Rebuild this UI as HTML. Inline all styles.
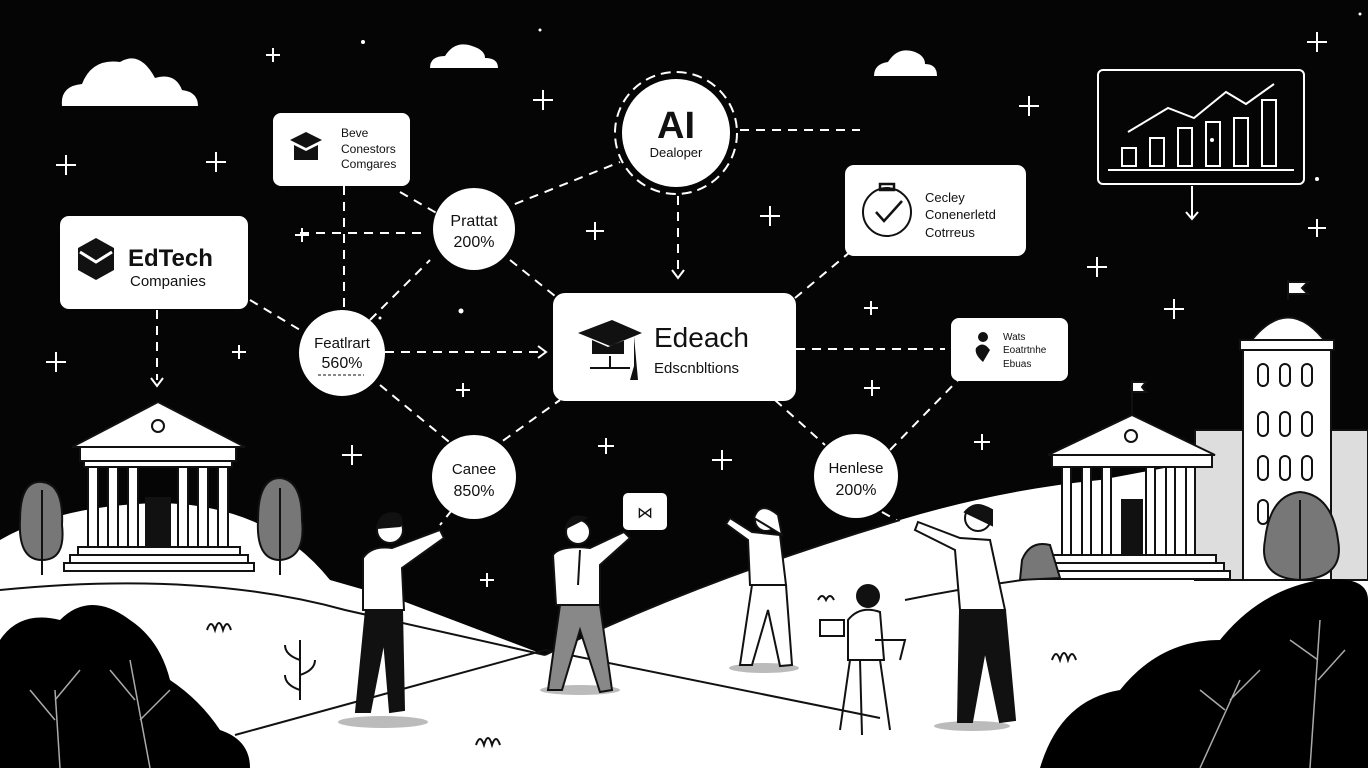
<!DOCTYPE html>
<html><head><meta charset="utf-8"><style>
html,body{margin:0;padding:0;background:#000;}
svg{display:block;}
text{font-family:"Liberation Sans",sans-serif;fill:#111;}
</style></head><body>
<svg width="1368" height="768" viewBox="0 0 1368 768" xmlns="http://www.w3.org/2000/svg">
<rect width="1368" height="768" fill="#050505"/>
<!-- clouds -->
<g fill="#fff">
<path d="M62 106 Q60 86 82 84 Q92 58 120 62 Q140 50 155 78 Q175 72 182 90 Q198 92 198 106 Z"/>
<path d="M430 68 Q430 56 445 56 Q455 40 472 46 Q485 50 485 58 Q498 58 498 68 Z"/>
<path d="M874 76 Q874 64 888 62 Q898 46 915 52 Q925 56 925 64 Q937 64 937 76 Z"/>
</g>
<!-- stars/plus -->
<g stroke="#fff" stroke-width="2">
<path d="M266 55h14M273 48v14M533 100h20M543 90v20M56 165h20M66 155v20M206 162h20M216 152v20M1019 106h20M1029 96v20M1307 42h20M1317 32v20M295 235h14M302 228v14M586 231h18M595 222v18M760 216h20M770 206v20M1087 267h20M1097 257v20M1164 309h20M1174 299v20M864 308h14M871 301v14M46 362h20M56 352v20M232 352h14M239 345v14M456 390h14M463 383v14M864 388h16M872 380v16M342 455h20M352 445v20M598 446h16M606 438v16M712 460h20M722 450v20M974 442h16M982 434v16M480 580h14M487 573v14M1308 228h18M1317 219v18"/>
</g>
<g fill="#fff">
<circle cx="363" cy="42" r="2"/><circle cx="540" cy="30" r="1.5"/><circle cx="1212" cy="140" r="2"/><circle cx="461" cy="311" r="2.5"/><circle cx="1317" cy="179" r="2"/><circle cx="716" cy="380" r="1.5"/><circle cx="380" cy="318" r="1.5"/><circle cx="1360" cy="14" r="1.5"/>
</g>
<!-- chart -->
<rect x="1098" y="70" width="206" height="114" rx="5" fill="none" stroke="#fff" stroke-width="2"/>
<g fill="none" stroke="#fff" stroke-width="2">
<rect x="1122" y="148" width="14" height="18"/><rect x="1150" y="138" width="14" height="28"/><rect x="1178" y="128" width="14" height="38"/><rect x="1206" y="122" width="14" height="44"/><rect x="1234" y="118" width="14" height="48"/><rect x="1262" y="100" width="14" height="66"/>
<path d="M1108 170h186M1128 132 L1168 108 L1194 118 L1226 92 L1246 104 L1274 84"/>
<path d="M1192 186v32M1186 212l6 7 6-7"/>
</g>
<!-- connectors -->
<g fill="none" stroke="#fff" stroke-width="2" stroke-dasharray="9 7">
<path d="M344 186 V310"/><path d="M300 233 H425"/><path d="M400 192 L440 215"/>
<path d="M500 210 L620 162"/><path d="M740 130 H860"/><path d="M678 196 V275"/>
<path d="M385 352 H540"/><path d="M250 300 L300 330"/><path d="M157 310 V380"/>
<path d="M370 320 L430 260"/><path d="M510 260 L560 300"/>
<path d="M380 385 L465 455"/><path d="M490 450 L560 400"/>
<path d="M796 349 H945"/><path d="M795 298 L850 252"/>
<path d="M775 400 L825 445"/><path d="M890 450 L960 378"/>
<path d="M452 510 L440 525"/><path d="M882 512 L905 525"/>
</g>
<g fill="none" stroke="#fff" stroke-width="2"><path d="M538 346l8 6-8 6M672 270l6 8 6-8M151 378l6 8 6-8"/><circle cx="676" cy="133" r="61" stroke-dasharray="10 6"/></g>
<!-- nodes -->
<circle cx="676" cy="133" r="54" fill="#fff"/>
<text x="676" y="138" font-size="38" font-weight="bold" text-anchor="middle">AI</text>
<text x="676" y="157" font-size="13" text-anchor="middle">Dealoper</text>
<rect x="273" y="113" width="137" height="73" rx="8" fill="#fff"/>
<path d="M290 140 L306 132 L322 140 L306 148Z M294 145v15h24v-15l-12 6z" fill="#111"/>
<text x="341" y="137" font-size="12">Beve</text><text x="341" y="153" font-size="12">Conestors</text><text x="341" y="168" font-size="12">Comgares</text>
<rect x="60" y="216" width="188" height="93" rx="9" fill="#fff"/>
<path d="M78 248 L96 238 L114 248 L114 270 L96 280 L78 270Z" fill="#111"/><path d="M80 252 L96 262 L112 252" stroke="#fff" stroke-width="3" fill="none"/>
<text x="128" y="266" font-size="24" font-weight="bold">EdTech</text>
<text x="130" y="286" font-size="15">Companies</text>
<circle cx="474" cy="229" r="41" fill="#fff"/>
<text x="474" y="226" font-size="16" text-anchor="middle">Prattat</text><text x="474" y="247" font-size="16" text-anchor="middle">200%</text>
<circle cx="342" cy="353" r="43" fill="#fff"/>
<text x="342" y="348" font-size="15" text-anchor="middle">Featlrart</text><text x="342" y="368" font-size="16" text-anchor="middle">560%</text>
<path d="M318 375h46" stroke="#111" stroke-dasharray="3 2"/>
<rect x="553" y="293" width="243" height="108" rx="12" fill="#fff"/>
<path d="M578 333 L612 320 L642 333 L610 346Z M592 340v14h32v-14l-16 7z" fill="#111"/><path d="M590 368h40M610 356v12" stroke="#111" stroke-width="2"/><path d="M634 336v30l-4 14h8z" fill="#111"/>
<text x="654" y="347" font-size="28">Edeach</text><text x="654" y="373" font-size="15">Edscnbltions</text>
<rect x="845" y="165" width="181" height="91" rx="9" fill="#fff"/>
<circle cx="887" cy="212" r="24" fill="none" stroke="#111" stroke-width="2"/><path d="M880 184h14v6h-14z M876 212l8 9 18-20" stroke="#111" stroke-width="2.5" fill="none"/>
<text x="925" y="202" font-size="13">Cecley</text><text x="925" y="219" font-size="13">Conenerletd</text><text x="925" y="237" font-size="13">Cotrreus</text>
<rect x="951" y="318" width="117" height="63" rx="8" fill="#fff"/>
<circle cx="983" cy="337" r="5" fill="#111"/><path d="M976 348 Q983 340 990 350 L983 362 Q974 354 976 348Z" fill="#111"/>
<text x="1003" y="340" font-size="10">Wats</text><text x="1003" y="353" font-size="10">Eoatrtnhe</text><text x="1003" y="367" font-size="10">Ebuas</text>
<circle cx="474" cy="477" r="42" fill="#fff"/>
<text x="474" y="474" font-size="15" text-anchor="middle">Canee</text><text x="474" y="496" font-size="16" text-anchor="middle">850%</text>
<circle cx="856" cy="476" r="42" fill="#fff"/>
<text x="856" y="473" font-size="15" text-anchor="middle">Henlese</text><text x="856" y="495" font-size="16" text-anchor="middle">200%</text>
<rect x="623" y="493" width="44" height="37" rx="5" fill="#fff"/><text x="645" y="518" font-size="16" text-anchor="middle">⋈</text>
<!-- ground -->
<path d="M0 540 Q60 505 160 503 Q270 505 330 580 L400 600 L545 655 Q700 580 900 520 Q1000 490 1100 480 L1368 430 L1368 768 L0 768Z" fill="#fff"/>
<path d="M0 590 Q200 570 345 610 L545 655 M235 735 L545 650 L880 718 M545 655 Q700 580 900 520" stroke="#111" stroke-width="2" fill="none"/>
<path d="M905 600 Q1100 560 1368 555" stroke="#111" stroke-width="2" fill="none"/>
<!-- left temple -->
<g stroke="#111" stroke-width="2" fill="#fff">
<path d="M72 447 L158 402 L245 447Z"/><rect x="80" y="447" width="156" height="14"/>
<rect x="84" y="461" width="148" height="6"/>
<rect x="88" y="467" width="10" height="80"/><rect x="108" y="467" width="10" height="80"/><rect x="128" y="467" width="10" height="80"/><rect x="178" y="467" width="10" height="80"/><rect x="198" y="467" width="10" height="80"/><rect x="218" y="467" width="10" height="80"/>
<rect x="146" y="498" width="24" height="52" fill="#111"/>
<rect x="78" y="547" width="162" height="8"/><rect x="70" y="555" width="178" height="8"/><rect x="64" y="563" width="190" height="8"/>
<circle cx="158" cy="426" r="6"/>
<path d="M20 520 Q20 480 42 482 Q64 484 62 525 Q66 560 42 560 Q18 560 20 520Z" fill="#777"/><path d="M42 490V575" />
<path d="M258 520 Q258 478 280 478 Q302 480 302 520 Q306 558 280 560 Q256 560 258 520Z" fill="#777"/><path d="M280 488V575"/>
</g>
<!-- right buildings -->
<g stroke="#111" stroke-width="2" fill="#fff">
<rect x="1195" y="430" width="173" height="150" fill="#ddd"/>
<rect x="1243" y="350" width="88" height="230"/>
<path d="M1248 345 Q1288 290 1328 345Z"/><rect x="1240" y="340" width="94" height="10"/>
<path d="M1288 300V280M1288 282h20l-6 6 6 6h-20" fill="#fff"/>
<rect x="1258" y="364" width="10" height="22" rx="5"/><rect x="1280" y="364" width="10" height="22" rx="5"/><rect x="1302" y="364" width="10" height="22" rx="5"/>
<rect x="1258" y="412" width="10" height="24" rx="5"/><rect x="1280" y="412" width="10" height="24" rx="5"/><rect x="1302" y="412" width="10" height="24" rx="5"/>
<rect x="1258" y="456" width="10" height="24" rx="5"/><rect x="1280" y="456" width="10" height="24" rx="5"/><rect x="1302" y="456" width="10" height="24" rx="5"/>
<rect x="1258" y="500" width="10" height="24" rx="5"/><rect x="1280" y="500" width="10" height="24" rx="5"/><rect x="1302" y="500" width="10" height="24" rx="5"/>
<path d="M1048 455 L1132 415 L1215 455Z"/><rect x="1052" y="455" width="160" height="12"/>
<rect x="1062" y="467" width="9" height="88"/><rect x="1082" y="467" width="9" height="88"/><rect x="1102" y="467" width="9" height="88"/><rect x="1146" y="467" width="9" height="88"/><rect x="1166" y="467" width="9" height="88"/><rect x="1186" y="467" width="9" height="88"/>
<rect x="1122" y="500" width="20" height="55" fill="#111"/>
<rect x="1050" y="555" width="166" height="8"/><rect x="1042" y="563" width="182" height="8"/><rect x="1036" y="571" width="194" height="8"/>
<path d="M1132 415V380M1132 382h14l-4 5 4 5h-14"/>
<circle cx="1131" cy="436" r="6"/>
<path d="M1265 540 Q1270 495 1300 492 Q1332 495 1338 540 Q1345 578 1300 580 Q1258 578 1265 540Z" fill="#777"/><path d="M1300 500V580"/>
<path d="M1022 560 Q1030 540 1050 545 L1060 578 L1020 580Z" fill="#777"/>
</g>
<!-- bushes -->
<path d="M0 640 Q20 610 60 620 Q90 590 130 620 Q160 640 170 680 Q200 700 220 730 Q250 740 250 768 L0 768Z" fill="#000"/>
<g stroke="#aaa" stroke-width="1.5" fill="none"><path d="M60 768 L55 690 M55 720 L30 690 M55 700 L80 670 M150 768 L130 660 M135 700 L110 670 M140 720 L170 690"/></g>
<path d="M1040 768 Q1060 700 1120 690 Q1160 640 1220 640 Q1260 590 1320 580 Q1368 575 1368 600 L1368 768Z" fill="#000"/>
<g stroke="#aaa" stroke-width="1.5" fill="none"><path d="M1200 768 L1240 680 M1225 710 L1200 690 M1230 700 L1260 670 M1310 768 L1320 620 M1318 660 L1290 640 M1318 680 L1345 650"/></g>
<!-- people -->
<g stroke="#111" stroke-width="2">
<ellipse cx="383" cy="722" rx="45" ry="6" fill="#bbb" stroke="none"/>
<circle cx="390" cy="530" r="13" fill="#fff"/><path d="M377 528 Q380 510 398 514 Q404 520 400 526Z" fill="#111"/>
<path d="M363 558 Q372 545 392 548 L440 530 L444 538 L402 568 L404 610 L363 610Z" fill="#fff"/>
<path d="M366 610 L402 610 L404 710 L390 712 L384 640 L370 712 L356 712Z" fill="#111"/>
<ellipse cx="580" cy="690" rx="40" ry="5" fill="#bbb" stroke="none"/>
<circle cx="578" cy="532" r="12" fill="#fff"/><path d="M566 528 Q570 512 586 518Z" fill="#111"/>
<path d="M553 555 Q560 545 590 548 L624 532 L630 538 L600 565 L600 605 L556 605Z" fill="#fff"/><path d="M580 550 L578 585" />
<path d="M560 605 L600 605 L612 690 L600 692 L580 630 L562 690 L548 690Z" fill="#888"/>
<ellipse cx="764" cy="668" rx="35" ry="5" fill="#bbb" stroke="none"/>
<circle cx="766" cy="520" r="11" fill="#fff"/><path d="M754 518 Q760 500 778 515 L782 535 Z" fill="#fff"/>
<path d="M748 540 L726 524 L730 518 L752 532 L780 535 L786 585 L750 585Z" fill="#fff"/>
<path d="M752 585 L786 585 L792 665 L780 666 L768 610 L752 665 L740 665Z" fill="#fff"/>
<circle cx="868" cy="596" r="11" fill="#111"/>
<path d="M848 620 Q860 605 880 612 L884 660 L848 660Z" fill="#fff"/><rect x="820" y="620" width="24" height="16" fill="#fff"/>
<path d="M850 660 L840 730 M880 660 L890 730 M860 660 L862 735 M875 640 L905 640 L900 660" fill="none"/>
<ellipse cx="972" cy="726" rx="38" ry="5" fill="#bbb" stroke="none"/>
<circle cx="978" cy="518" r="13" fill="#fff"/><path d="M965 512 Q975 500 992 510 L992 525 Z" fill="#111"/>
<path d="M955 550 L915 530 L918 522 L960 538 L990 540 L1005 610 L960 610Z" fill="#fff"/>
<path d="M960 610 L1005 610 L1015 720 L1000 722 L985 650 L972 722 L958 722Z" fill="#111"/>
</g>
<!-- small plants -->
<g stroke="#111" stroke-width="2" fill="none">
<path d="M207 630 q4-12 8 0 q4-14 8 0 q4-12 8 0M300 700 V640 M300 660 q-15-5-15-15 M300 675 q15-5 15-15 M300 690 q-15-5-15-15M1052 660 q4-12 8 0 q4-14 8 0 q4-12 8 0M476 745 q4-12 8 0 q4-14 8 0 q4-12 8 0M818 600 q4-8 8 0 q4-8 8 0"/>
</g>
</svg>
</body></html>
